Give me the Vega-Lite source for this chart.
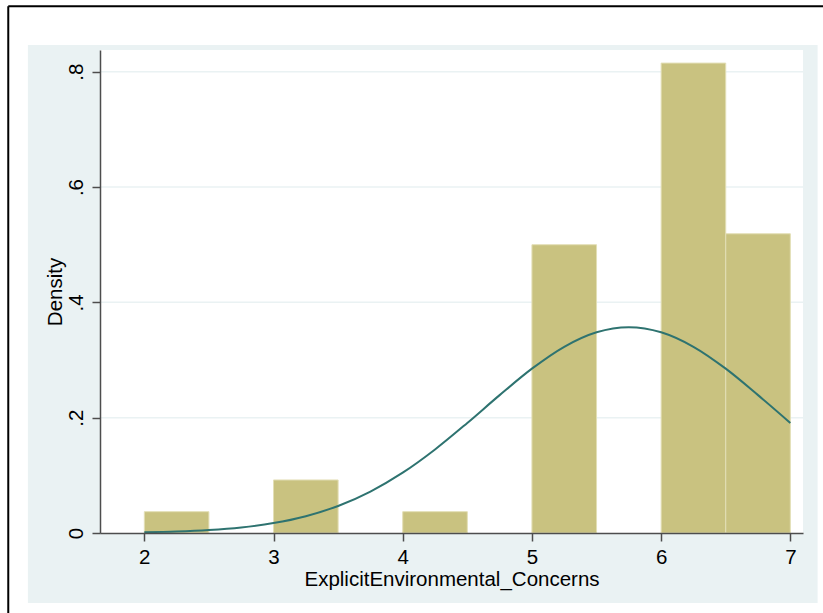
{
  "$schema": "https://vega.github.io/schema/vega-lite/v6.json",
  "width": 703,
  "height": 483,
  "autosize": {"type": "none"},
  "padding": {"left": 100, "top": 50, "right": 20, "bottom": 80},
  "background": "white",
  "config": {
    "view": {"stroke": null, "fill": null},
    "font": "Liberation Sans",
    "axis": {"labelFont": "Liberation Sans", "titleFont": "Liberation Sans", "grid": false, "zindex": 1}
  },
  "datasets": {
    "bins": [
      {"bin_start": 2.0, "bin_end": 2.5, "density": 0.037},
      {"bin_start": 3.0, "bin_end": 3.5, "density": 0.092},
      {"bin_start": 4.0, "bin_end": 4.5, "density": 0.037},
      {"bin_start": 5.0, "bin_end": 5.5, "density": 0.500},
      {"bin_start": 6.0, "bin_end": 6.5, "density": 0.815},
      {"bin_start": 6.5, "bin_end": 7.0, "density": 0.519}
    ],
    "normal": [
      {"x": 2.00, "density": 0.0013},
      {"x": 2.25, "density": 0.0026},
      {"x": 2.50, "density": 0.0052},
      {"x": 2.75, "density": 0.0097},
      {"x": 3.00, "density": 0.0172},
      {"x": 3.25, "density": 0.0292},
      {"x": 3.50, "density": 0.0469},
      {"x": 3.75, "density": 0.0719},
      {"x": 4.00, "density": 0.1046},
      {"x": 4.25, "density": 0.1449},
      {"x": 4.50, "density": 0.1909},
      {"x": 4.75, "density": 0.2391},
      {"x": 5.00, "density": 0.2850},
      {"x": 5.25, "density": 0.3230},
      {"x": 5.50, "density": 0.3482},
      {"x": 5.75, "density": 0.3570},
      {"x": 6.00, "density": 0.3482},
      {"x": 6.25, "density": 0.3230},
      {"x": 6.50, "density": 0.2850},
      {"x": 6.75, "density": 0.2391},
      {"x": 7.00, "density": 0.1909}
    ],
    "ticks": [
      {"tick": 0.2},
      {"tick": 0.4},
      {"tick": 0.6},
      {"tick": 0.8}
    ],
    "one": [{}]
  },
  "layer": [
    {
      "data": {"name": "one"},
      "mark": {"type": "rect", "fill": "#EAF2F3", "clip": false},
      "encoding": {
        "x": {"datum": 1.099, "type": "quantitative", "title": "ExplicitEnvironmental_Concerns", "scale": {"domain": [1.657, 7.098], "nice": false, "zero": false}},
        "x2": {"datum": 7.211},
        "y": {"datum": 0.8463, "type": "quantitative", "title": "Density", "scale": {"domain": [0, 0.8377], "nice": false, "zero": false}},
        "y2": {"datum": -0.1214}
      }
    },
    {
      "data": {"name": "one"},
      "mark": {"type": "rect", "fill": "white", "clip": false},
      "encoding": {
        "x": {"datum": 1.657, "type": "quantitative", "title": "ExplicitEnvironmental_Concerns", "scale": {"domain": [1.657, 7.098], "nice": false, "zero": false}},
        "x2": {"datum": 7.098},
        "y": {"datum": 0, "type": "quantitative", "title": "Density", "scale": {"domain": [0, 0.8377], "nice": false, "zero": false}},
        "y2": {"datum": 0.8377}
      }
    },
    {
      "data": {"name": "ticks"},
      "mark": {"type": "rule", "stroke": "#EAF2F3", "strokeWidth": 1.5},
      "encoding": {
        "x": {"datum": 1.657, "type": "quantitative", "title": "ExplicitEnvironmental_Concerns", "scale": {"domain": [1.657, 7.098], "nice": false, "zero": false}},
        "x2": {"datum": 7.098},
        "y": {"field": "tick", "type": "quantitative", "title": "Density", "scale": {"domain": [0, 0.8377], "nice": false, "zero": false}}
      }
    },
    {
      "data": {"name": "bins"},
      "mark": {"type": "bar", "fill": "#C9C280", "stroke": "#E3DFB6", "strokeWidth": 1},
      "encoding": {
        "x": {
          "field": "bin_start", "type": "quantitative",
          "title": "ExplicitEnvironmental_Concerns",
          "scale": {"domain": [1.657, 7.098], "nice": false, "zero": false},
          "axis": {
            "values": [2, 3, 4, 5, 6, 7],
            "format": "d",
            "grid": false,
            "zindex": 1,
            "domainColor": "#4d4d4d", "domainWidth": 1.5,
            "tickColor": "#4d4d4d", "tickWidth": 1.5, "tickSize": 8,
            "labelFontSize": 20.5, "labelColor": "#000000", "labelPadding": 6,
            "labelFlush": false, "labelOverlap": false,
            "titleFontSize": 20.5, "titleFontWeight": "normal", "titleColor": "#000000", "titlePadding": 2
          }
        },
        "x2": {"field": "bin_end"},
        "y": {
          "field": "density", "type": "quantitative",
          "title": "Density",
          "scale": {"domain": [0, 0.8377], "nice": false, "zero": false},
          "axis": {
            "values": [0, 0.2, 0.4, 0.6, 0.8],
            "labelExpr": "datum.value == 0 ? '0' : '.' + format(datum.value * 10, 'd')",
            "grid": false,
            "zindex": 1,
            "domainColor": "#4d4d4d", "domainWidth": 1.5,
            "tickColor": "#4d4d4d", "tickWidth": 1.5, "tickSize": 8,
            "labelFontSize": 20.5, "labelColor": "#000000", "labelPadding": 10,
            "labelAngle": -90, "labelAlign": "center", "labelBaseline": "alphabetic",
            "labelFlush": false, "labelOverlap": false,
            "titleFontSize": 20.5, "titleFontWeight": "normal", "titleColor": "#000000", "titlePadding": 1
          }
        },
        "y2": {"datum": 0}
      }
    },
    {
      "data": {"name": "normal"},
      "mark": {"type": "line", "stroke": "#2E7370", "strokeWidth": 2, "interpolate": "monotone"},
      "encoding": {
        "x": {"field": "x", "type": "quantitative", "title": "ExplicitEnvironmental_Concerns", "scale": {"domain": [1.657, 7.098], "nice": false, "zero": false}},
        "y": {"field": "density", "type": "quantitative", "title": "Density", "scale": {"domain": [0, 0.8377], "nice": false, "zero": false}}
      }
    },
    {
      "data": {"name": "one"},
      "mark": {"type": "rule", "stroke": "#000000", "strokeWidth": 2, "clip": false},
      "encoding": {
        "x": {"datum": 0.947, "type": "quantitative", "title": "ExplicitEnvironmental_Concerns", "scale": {"domain": [1.657, 7.098], "nice": false, "zero": false}},
        "y": {"datum": 0.9135, "type": "quantitative", "title": "Density", "scale": {"domain": [0, 0.8377], "nice": false, "zero": false}},
        "y2": {"datum": -0.2}
      }
    },
    {
      "data": {"name": "one"},
      "mark": {"type": "rule", "stroke": "#000000", "strokeWidth": 2, "clip": false},
      "encoding": {
        "x": {"datum": 0.947, "type": "quantitative", "title": "ExplicitEnvironmental_Concerns", "scale": {"domain": [1.657, 7.098], "nice": false, "zero": false}},
        "x2": {"datum": 8},
        "y": {"datum": 0.9135, "type": "quantitative", "title": "Density", "scale": {"domain": [0, 0.8377], "nice": false, "zero": false}}
      }
    }
  ]
}
